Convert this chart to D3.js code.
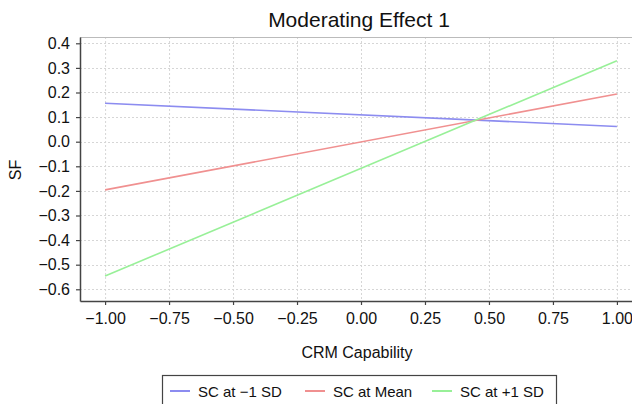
<html>
<head>
<meta charset="utf-8">
<style>
  body { margin: 0; background: #fff; }
  text { font-family: "Liberation Sans", Arial, sans-serif; fill: #111; }
</style>
</head>
<body>

<script src="https://d3js.org/d3.v7.min.js"></script>
<script>

    // data (endpoints of the simple slopes)
    var xValues = [-1, 1];
    var seriesNames = ["SC at \u22121 SD", "SC at Mean", "SC at +1 SD"];
    var lowSD = [0.156, 0.062];
    var meanSD = [-0.196, 0.194];
    var highSD = [-0.546, 0.329];
    var seriesColors = ["#8c8cf0", "#f09090", "#98f098"];
    var xTicks = [-1, -0.75, -0.5, -0.25, 0, 0.25, 0.5, 0.75, 1];
    var yTicks = [0.4, 0.3, 0.2, 0.1, 0, -0.1, -0.2, -0.3, -0.4, -0.5, -0.6];

    var series = [lowSD, meanSD, highSD];

    var width = 632,
        height = 404;

    var plotLeft = 80, plotTop = 37, plotRight = 642, plotBottom = 301;

    var svg = d3.select("body").append("svg").attr("width", width).attr("height", height);

    var x = d3.scaleLinear().domain([-1.098, 1.098]).range([plotLeft, plotRight]);
    var y = d3.scaleLinear().domain([-0.6476, 0.4256]).range([plotBottom, plotTop]);

    var fmtX = function (d) { return d3.format(".2f")(d).replace("-", "\u2212"); };
    var fmtY = function (d) { return d3.format(".1f")(d).replace("-", "\u2212"); };

    // grid
    var grid = svg.append("g").attr("stroke", "#d6d6d6").attr("stroke-dasharray", "2,2");
    grid.selectAll(".gx").data(xTicks).enter().append("line")
        .attr("x1", function (d) { return x(d) + 0.5; })
        .attr("x2", function (d) { return x(d) + 0.5; })
        .attr("y1", plotTop).attr("y2", plotBottom);
    grid.selectAll(".gy").data(yTicks).enter().append("line")
        .attr("y1", function (d) { return Math.round(y(d)) + 0.5; })
        .attr("y2", function (d) { return Math.round(y(d)) + 0.5; })
        .attr("x1", plotLeft).attr("x2", plotRight);

    // top border
    svg.append("line").attr("x1", plotLeft).attr("x2", plotRight)
        .attr("y1", plotTop + 0.5).attr("y2", plotTop + 0.5)
        .attr("stroke", "#bbb");

    // axes
    var xAxis = svg.append("g").attr("transform", "translate(0," + plotBottom + ")")
        .call(d3.axisBottom(x).tickValues(xTicks).tickFormat(fmtX).tickSize(4).tickPadding(8).tickSizeOuter(0));
    var yAxis = svg.append("g").attr("transform", "translate(" + plotLeft + ",0)")
        .call(d3.axisLeft(y).tickValues(yTicks).tickFormat(fmtY).tickSize(4).tickPadding(6).tickSizeOuter(0));

    [xAxis, yAxis].forEach(function (a) {
        a.select(".domain").attr("stroke", "#444").attr("stroke-width", 1.5);
        a.selectAll(".tick line").attr("stroke", "#444").attr("stroke-width", 1.2);
        a.selectAll(".tick text").style("font-size", "16px").attr("fill", "#111")
            .style("font-family", "'Liberation Sans', Arial, sans-serif");
    });

    // lines
    var line = d3.line()
        .x(function (d, i) { return x(xValues[i]); })
        .y(function (d) { return y(d); });

    svg.append("g").selectAll("path").data(series).enter().append("path")
        .attr("d", line)
        .attr("fill", "none")
        .attr("stroke", function (d, i) { return seriesColors[i]; })
        .attr("stroke-width", 1.6);

    // title and labels
    svg.append("text").attr("x", 359).attr("y", 27).attr("text-anchor", "middle")
        .style("font-size", "21px").text("Moderating Effect 1");

    svg.append("text").attr("x", 357).attr("y", 358).attr("text-anchor", "middle")
        .style("font-size", "16px").text("CRM Capability");

    svg.append("text").attr("transform", "translate(21,170) rotate(-90)").attr("text-anchor", "middle")
        .style("font-size", "16px").text("SF");

    // legend
    var legend = svg.append("g");
    legend.append("rect").attr("x", 162.5).attr("y", 375.5).attr("width", 394).attr("height", 40)
        .attr("fill", "#fff").attr("stroke", "#444").attr("stroke-width", 1.2);

    var legendX = [170, 305, 432];
    var items = legend.selectAll(".item").data(seriesNames).enter().append("g")
        .attr("transform", function (d, i) { return "translate(" + legendX[i] + ",0)"; });
    items.append("line").attr("x1", 0).attr("x2", 20).attr("y1", 391).attr("y2", 391)
        .attr("stroke", function (d, i) { return seriesColors[i]; }).attr("stroke-width", 2);
    items.append("text").attr("x", 28).attr("y", 397).style("font-size", "15px")
        .text(function (d) { return d; });

</script>
</body>
</html>
